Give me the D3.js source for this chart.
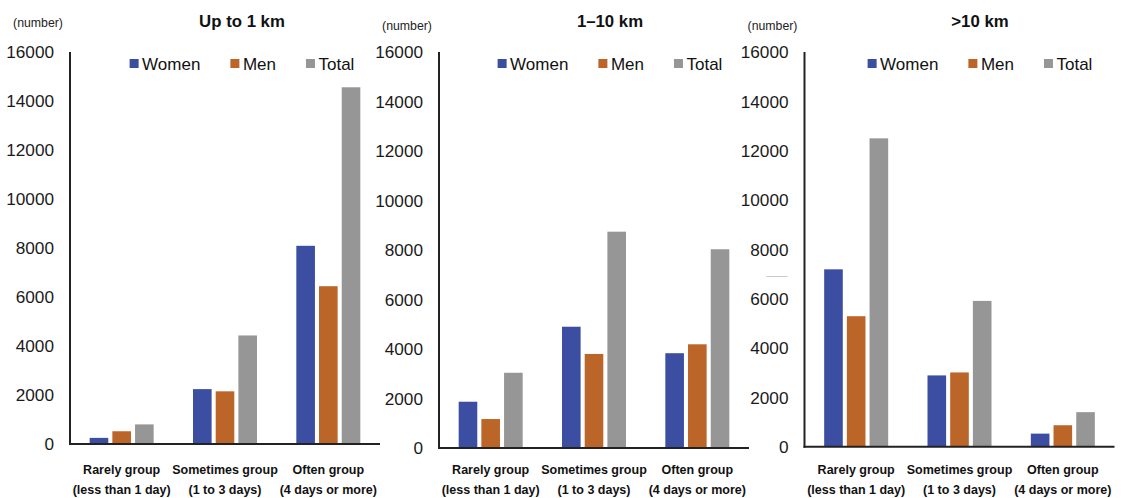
<!DOCTYPE html>
<html>
<head>
<meta charset="utf-8">
<script src="https://cdn.jsdelivr.net/npm/d3@7"></script>
<style>
  html, body { margin: 0; padding: 0; background: #fff; }
  svg { display: block; font-family: "Liberation Sans", Arial, Helvetica, sans-serif; }
</style>
</head>
<body>
<svg id="chart" width="1131" height="498"></svg>
<script>
// Distance bands (one panel each)
const distances = ["Up to 1 km", "1\u201310 km", ">10 km"];

// Frequency groups on the x axis (two-line labels)
const groupNames = ["Rarely group", "Sometimes group", "Often group"];
const groupNotes = ["(less than 1 day)", "(1 to 3 days)", "(4 days or more)"];

// Series
const seriesNames = ["Women", "Men", "Total"];
const seriesColors = ["#3b4ea1", "#bb6528", "#969696"];

// Counts per panel, per group: [Women, Men, Total]
const upTo1km = [
  [250, 520, 800],
  [2240, 2150, 4430],
  [8090, 6440, 14560]
];
const from1to10km = [
  [1870, 1170, 3040],
  [4900, 3800, 8740],
  [3830, 4190, 8030]
];
const over10km = [
  [7190, 5290, 12500],
  [2890, 3010, 5910],
  [530, 870, 1400]
];
const panelValues = [upTo1km, from1to10km, over10km];

// Y axis ticks
const yTicks = [0, 2000, 4000, 6000, 8000, 10000, 12000, 14000, 16000];
const yMax = 16000;
const unitLabel = "(number)";

// Panel placement
const layout = [
  { x0: 70,    x1: 380,    y0: 444,   yTop: 52, head: 242, unitY: 27 },
  { x0: 439,   x1: 749,    y0: 448,   yTop: 52, head: 610, unitY: 30 },
  { x0: 804.5, x1: 1114.5, y0: 446.7, yTop: 52, head: 980, unitY: 30 }
];

const svg = d3.select("#chart");

layout.forEach((L, p) => {
  const g = svg.append("g");
  const y = d3.scaleLinear().domain([0, yMax]).range([L.y0, L.yTop]);
  const x = d3.scaleBand().domain(groupNames).range([L.x0, L.x1]).padding(0);
  const groupW = 64;
  const xs = d3.scaleBand().domain(seriesNames).range([0, groupW]).paddingInner(0.18).paddingOuter(0);

  // bars
  panelValues[p].forEach((vals, gi) => {
    const cx = x(groupNames[gi]) + x.bandwidth() / 2 - groupW / 2;
    g.selectAll(null)
      .data(vals)
      .enter()
      .append("rect")
      .attr("x", (d, i) => cx + xs(seriesNames[i]))
      .attr("width", xs.bandwidth())
      .attr("y", d => y(d))
      .attr("height", d => y(0) - y(d))
      .attr("fill", (d, i) => seriesColors[i]);
  });

  // y tick labels
  g.selectAll(null)
    .data(yTicks)
    .enter()
    .append("text")
    .attr("x", L.x0 - 16)
    .attr("y", d => y(d))
    .attr("dy", "0.36em")
    .attr("text-anchor", "end")
    .attr("font-size", 17.2)
    .attr("fill", "#1a1a1a")
    .text(d => d);

  // axis lines
  g.append("line")
    .attr("x1", L.x0).attr("x2", L.x0)
    .attr("y1", y(yMax)).attr("y2", y(0) + 1)
    .attr("stroke", "#222").attr("stroke-width", 2);
  g.append("line")
    .attr("x1", L.x0 - 1).attr("x2", L.x1)
    .attr("y1", y(0)).attr("y2", y(0))
    .attr("stroke", "#222").attr("stroke-width", 2);

  // category labels
  groupNames.forEach((name, gi) => {
    const cx = x(name) + x.bandwidth() / 2;
    g.append("text")
      .attr("x", cx).attr("y", 473.5)
      .attr("text-anchor", "middle")
      .attr("font-size", 12.5).attr("font-weight", "bold")
      .attr("fill", "#111")
      .text(name);
    g.append("text")
      .attr("x", cx).attr("y", 494)
      .attr("text-anchor", "middle")
      .attr("font-size", 12.5).attr("font-weight", "bold")
      .attr("fill", "#111")
      .text(groupNotes[gi]);
  });

  // unit label
  g.append("text")
    .attr("x", L.x0 - 32).attr("y", L.unitY)
    .attr("text-anchor", "middle")
    .attr("font-size", 12.3)
    .attr("fill", "#222")
    .text(unitLabel);

  // title
  g.append("text")
    .attr("x", L.head).attr("y", 27)
    .attr("text-anchor", "middle")
    .attr("font-size", 16.8).attr("font-weight", "bold")
    .attr("fill", "#111")
    .text(distances[p]);

  // legend, centred under the title
  const lg = g.append("g");
  let cur = 0;
  seriesNames.forEach((s, i) => {
    const item = lg.append("g").attr("transform", `translate(${cur},0)`);
    item.append("rect")
      .attr("x", 0).attr("y", 59).attr("width", 9).attr("height", 9)
      .attr("fill", seriesColors[i]);
    const t = item.append("text")
      .attr("x", 12.5).attr("y", 69.5)
      .attr("font-size", 17)
      .attr("fill", "#111")
      .text(s);
    cur += 12.5 + t.node().getComputedTextLength() + 30;
  });
  const legendW = cur - 30;
  lg.attr("transform", `translate(${L.head - legendW / 2},0)`);
});

// faint stray tick beside the third panel's axis
{
  const L = layout[2];
  const y = d3.scaleLinear().domain([0, yMax]).range([L.y0, L.yTop]);
  svg.append("line")
    .attr("x1", L.x0 - 38).attr("x2", L.x0 - 17)
    .attr("y1", y(6900)).attr("y2", y(6900))
    .attr("stroke", "#c8c8c8").attr("stroke-width", 1);
}
</script>
</body>
</html>
